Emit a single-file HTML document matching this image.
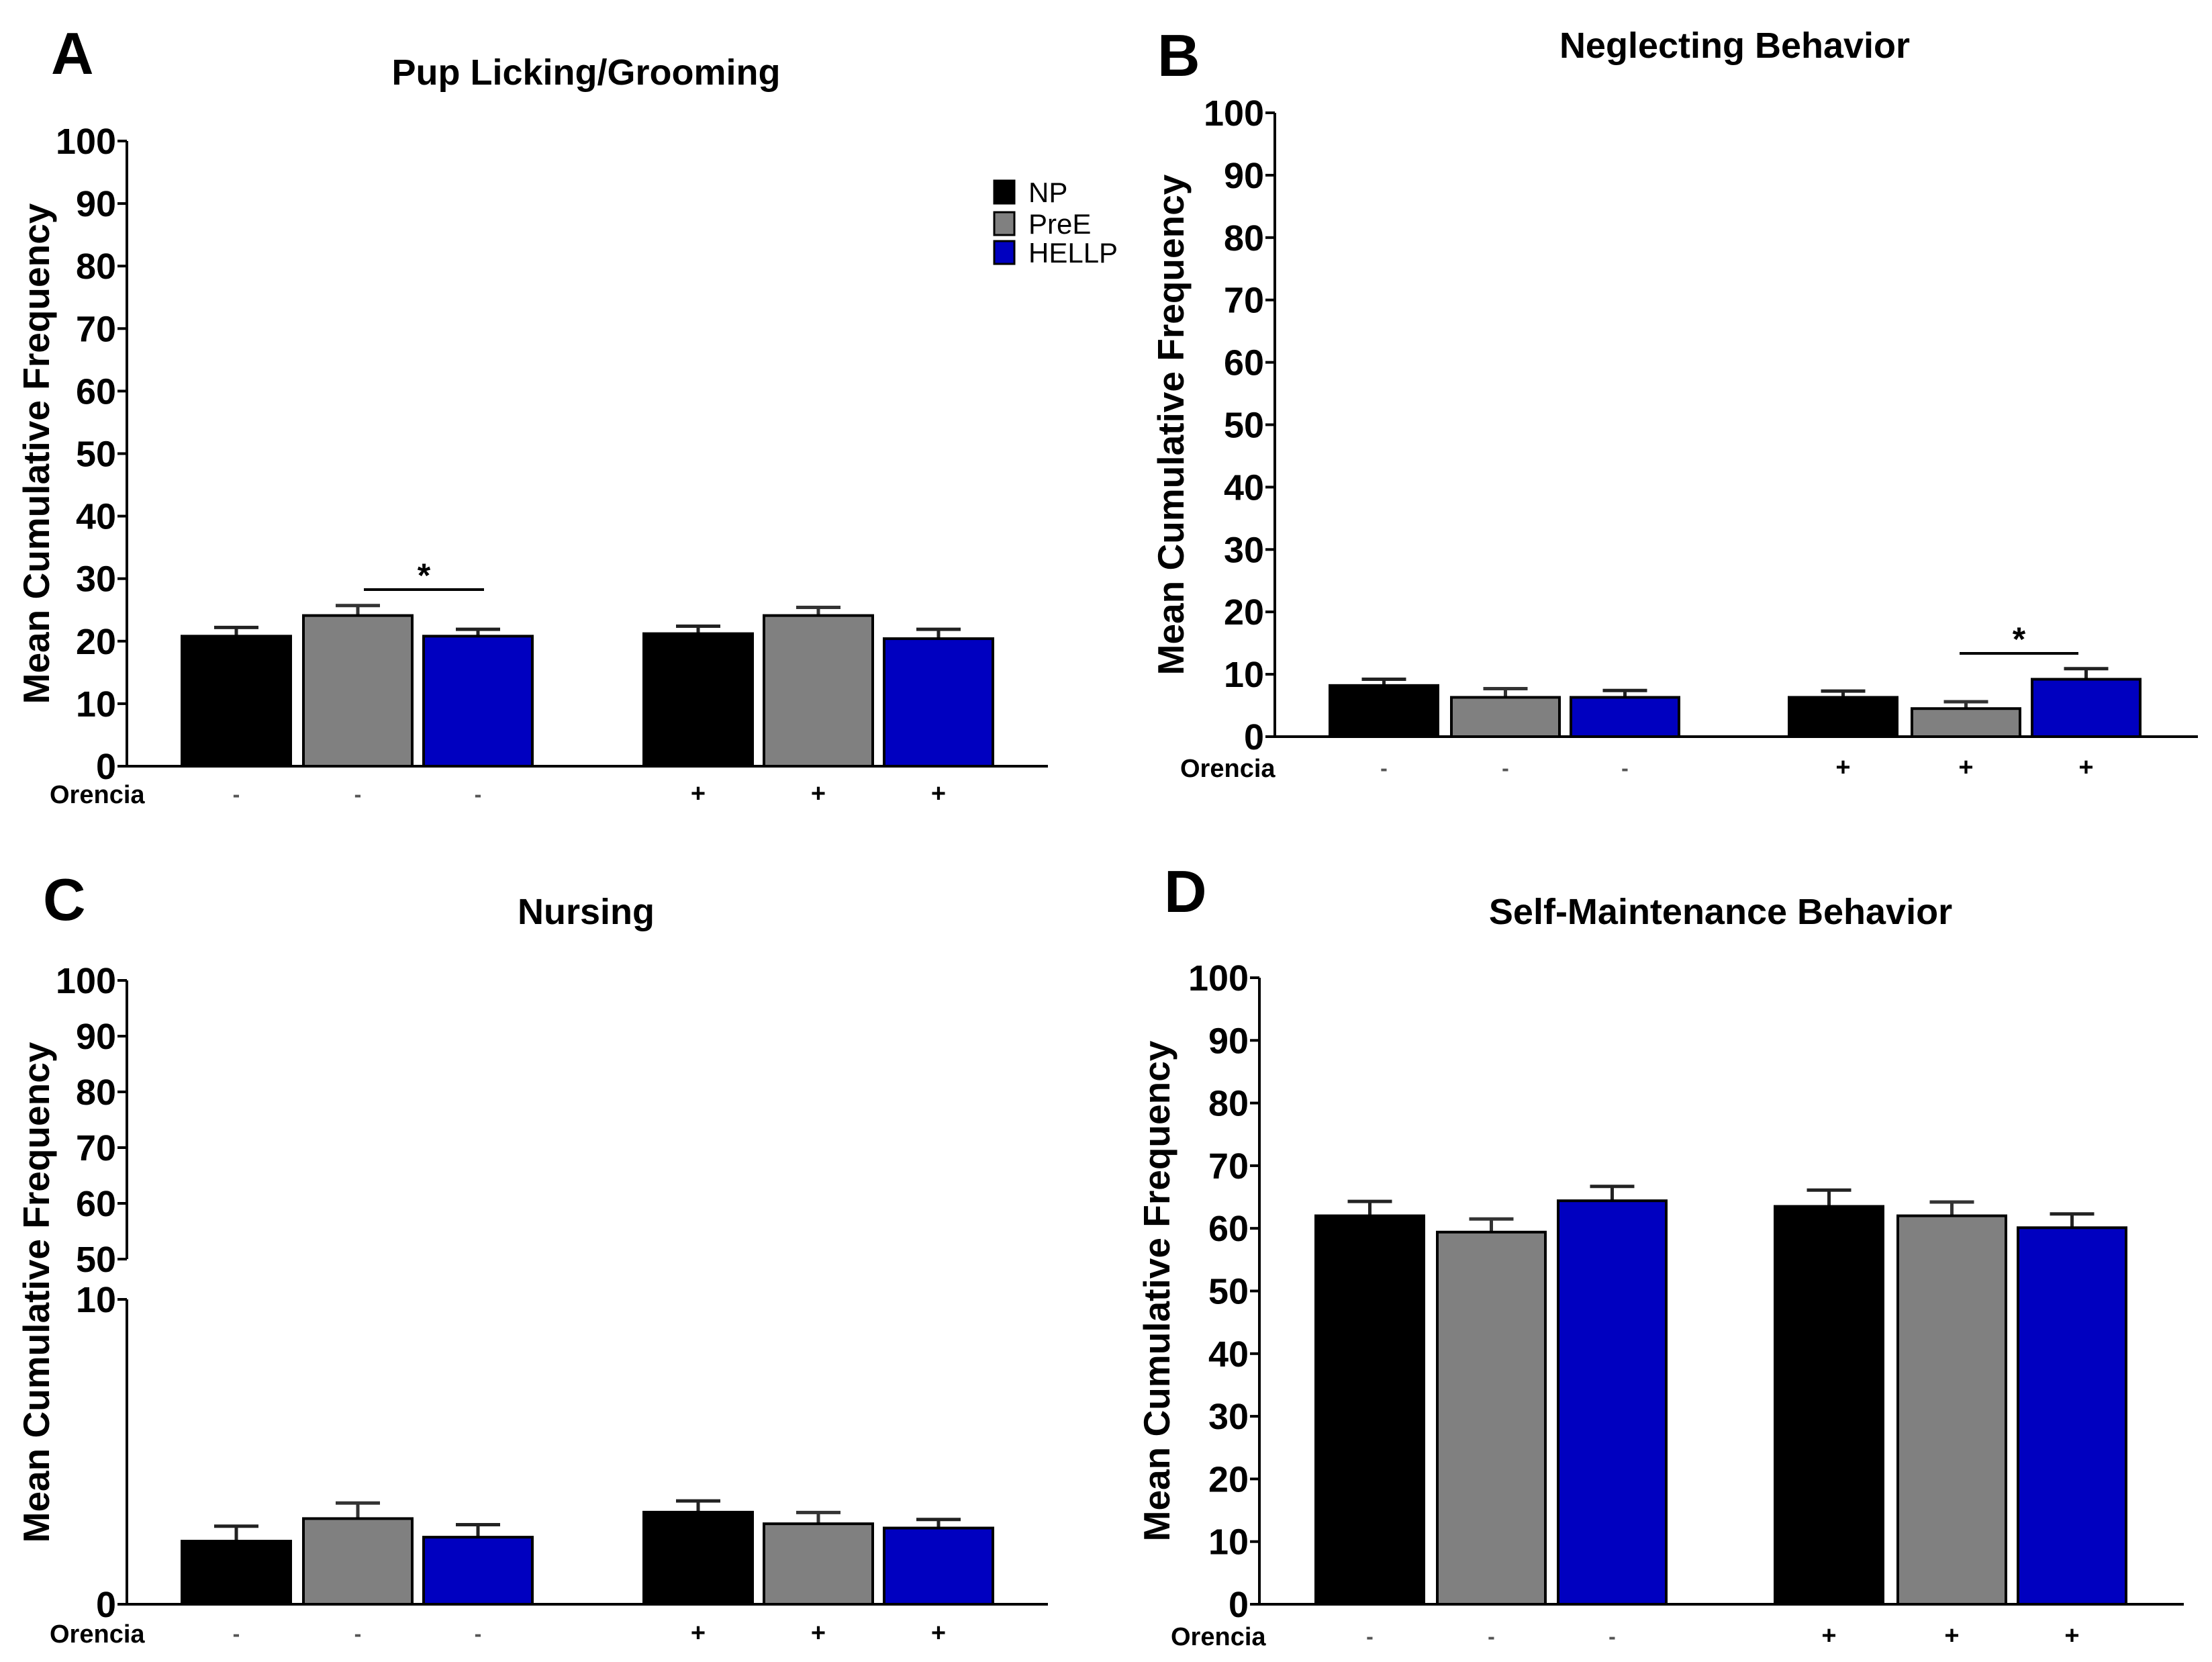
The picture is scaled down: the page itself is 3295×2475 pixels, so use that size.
<!DOCTYPE html>
<html><head><meta charset="utf-8"><title>Maternal behavior panels</title>
<style>
html,body{margin:0;padding:0;background:#fff;}
svg{display:block;}
text{font-family:"Liberation Sans",Arial,sans-serif;}
</style></head>
<body>
<svg id="fig" width="3295" height="2475" viewBox="0 0 3295 2475" xmlns="http://www.w3.org/2000/svg"></svg>
<script>
// ---- data ----
const groups = ["NP","PreE","HELLP","NP","PreE","HELLP"];
const orencia = ["-","-","-","+","+","+"];
const colors = ["#000000","#808080","#0000c0"];
const yTicks = [0,10,20,30,40,50,60,70,80,90,100];
const nursingUpperTicks = [50,60,70,80,90,100];
const nursingLowerTicks = [0,10];
const lickingMeans = [20.8,24.1,20.8,21.2,24.1,20.4];
const lickingErr = [1.4,1.6,1.1,1.2,1.3,1.5];
const neglectMeans = [8.2,6.3,6.3,6.3,4.5,9.2];
const neglectErr = [1.0,1.4,1.1,1.0,1.1,1.7];
const nursingMeans = [2.07,2.81,2.2,3.02,2.64,2.5];
const nursingErr = [0.49,0.51,0.41,0.37,0.37,0.28];
const selfMeans = [62.0,59.4,64.4,63.5,62.0,60.1];
const selfErr = [2.3,2.1,2.3,2.6,2.2,2.2];

const svg = document.getElementById('fig');
const NS = "http://www.w3.org/2000/svg";
function mk(tag, attrs, parent){
  const e = document.createElementNS(NS, tag);
  for (const k in attrs) e.setAttribute(k, attrs[k]);
  (parent||svg).appendChild(e);
  return e;
}
function txt(s, attrs, parent){ const t = mk('text', attrs, parent); t.textContent = s; return t; }

const panels = [
  {key:'licking', letter:'A', title:'Pup Licking/Grooming', means:lickingMeans, err:lickingErr,
   axX:189, axEnd:1561, y0:1141, y100:210, letterX:76, letterY:110, titleX:873, titleY:126,
   barX:[271,452,631,959,1138,1317], barW:162, oreX:74, oreY:1194, labelX:54, sig:{x1:542,x2:721,y:878}},
  {key:'neglect', letter:'B', title:'Neglecting Behavior', means:neglectMeans, err:neglectErr,
   axX:1899, axEnd:3274, y0:1097, y100:168, letterX:1724, letterY:113, titleX:2584, titleY:86,
   barX:[1981,2162,2340,2665,2848,3027], barW:161, oreX:1758, oreY:1155, labelX:1744, sig:{x1:2919,x2:3096,y:973}},
  {key:'nursing', letter:'C', title:'Nursing', means:nursingMeans, err:nursingErr, broken:true,
   axX:189, axEnd:1561, y0:2389, y10:1935, y50:1875, y100:1460, letterX:64, letterY:1370, titleX:873, titleY:1376,
   barX:[271,452,631,959,1138,1317], barW:162, oreX:74, oreY:2444, labelX:54},
  {key:'self', letter:'D', title:'Self-Maintenance Behavior', means:selfMeans, err:selfErr,
   axX:1876, axEnd:3253, y0:2389, y100:1456, letterX:1734, letterY:1358, titleX:2563, titleY:1376,
   barX:[1960,2141,2321,2644,2827,3006], barW:161, oreX:1744, oreY:2448, labelX:1723}
];

panels.forEach(p => {
  const g = mk('g', {});
  
  
  let yScale;
  if (p.broken) {
    yScale = v => v <= 10 ? p.y0 - (v/10)*(p.y0 - p.y10) : p.y50 - ((v-50)/50)*(p.y50 - p.y100);
  } else {
    yScale = v => p.y0 - (v/100)*(p.y0 - p.y100);
  }
  const L = txt(p.letter, {x:p.letterX, y:p.letterY, 'font-size':88, 'font-weight':'bold'}, g);
  
  
  const T = txt(p.title, {x:p.titleX, y:p.titleY, 'font-size':54, 'font-weight':'bold', 'text-anchor':'middle'}, g);
  
  
  const midY = (p.y100 + p.y0)/2;
  const YT = txt('Mean Cumulative Frequency', {x:p.labelX, y:midY, 'font-size':55, 'font-weight':'bold', 'text-anchor':'middle', 'dominant-baseline':'central', transform:`rotate(-90 ${p.labelX} ${midY})`}, g);
  
  
  p.means.forEach((m, i) => {
    const top = yScale(m), x = p.barX[i];
    const et = yScale(m + p.err[i]);
    const cx = x + p.barW/2;
    const eb = mk('path', {d:`M${cx} ${top} V${et} M${cx-33} ${et} H${cx+33}`, stroke: i%3===1 ? '#333' : '#222', 'stroke-width':5, fill:'none'}, g);
    
    
    const r = mk('rect', {x:x, y:top, width:p.barW, height:p.y0 - top, fill:colors[i%3], stroke:'#000', 'stroke-width':4}, g);
    
    
    const s = txt(orencia[i], {x:cx, y:p.oreY, 'font-size':orencia[i]==='+'?38:32, 'font-weight':'bold', 'text-anchor':'middle', fill:orencia[i]==='+'?'#000':'#555'}, g);
    
    
  });
  const ax = mk('g', {stroke:'#000', 'stroke-width':4, fill:'none'}, g);
  
  
  mk('line', {x1:p.axX - 14, y1:p.y0, x2:p.axEnd, y2:p.y0}, ax);
  const tickGroups = p.broken ? [nursingUpperTicks, nursingLowerTicks] : [yTicks];
  tickGroups.forEach(ticks => {
    const ys = ticks.map(yScale);
    mk('line', {x1:p.axX, y1:Math.min(...ys), x2:p.axX, y2:Math.max(...ys)}, ax);
    ticks.forEach(t => {
      const yy = yScale(t);
      mk('line', {x1:p.axX - 14, y1:yy, x2:p.axX, y2:yy}, ax);
      const s = String(t);
      const tl = txt(s, {x:p.axX - 16, y:yy + 19, 'font-size':54, 'font-weight':'bold', 'text-anchor':'end', stroke:'none', fill:'#000', textLength:s.length*30, lengthAdjust:'spacingAndGlyphs'}, g);
      
      
    });
  });
  const o = txt('Orencia', {x:p.oreX, y:p.oreY + 2, 'font-size':38, 'font-weight':'bold'}, g);
  
  
  if (p.sig) {
    const sl = mk('line', {x1:p.sig.x1, y1:p.sig.y, x2:p.sig.x2, y2:p.sig.y, stroke:'#000', 'stroke-width':4}, g);
    
    
    const st = txt('*', {x:(p.sig.x1+p.sig.x2)/2, y:p.sig.y - 4, 'font-size':50, 'font-weight':'bold', 'text-anchor':'middle'}, g);
    
    
  }
});

const legNames = ["NP","PreE","HELLP"];
const legY = [269, 316, 359];
const lg = mk('g', {});


legNames.forEach((n, i) => {
  const e = mk('g', {}, lg);
  
  
  mk('rect', {x:1481, y:legY[i], width:30, height:34, fill:colors[i], stroke:'#000', 'stroke-width':3}, e);
  txt(n, {x:1532, y:legY[i] + 32, 'font-size':42}, e);
});
</script>
</body></html>
